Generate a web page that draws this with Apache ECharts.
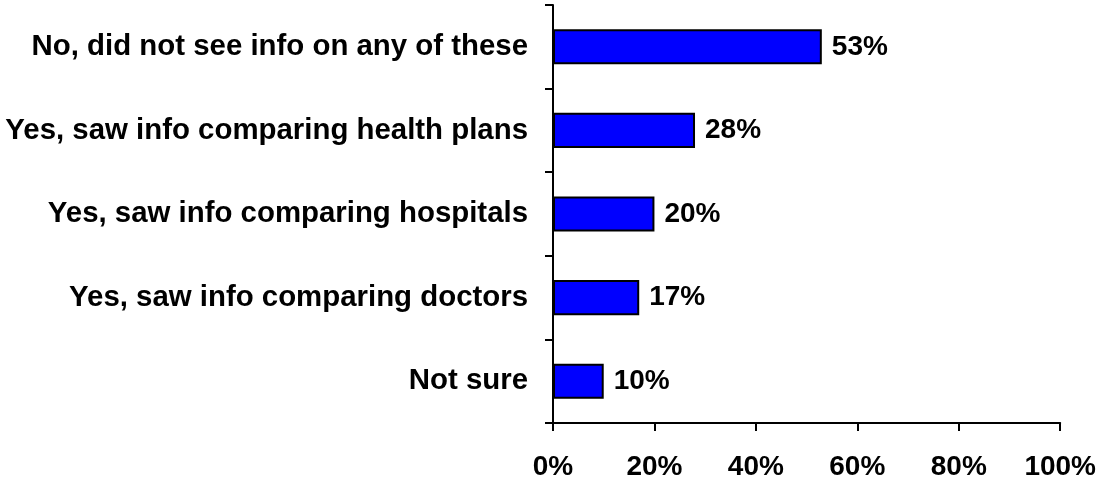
<!DOCTYPE html>
<html>
<head>
<meta charset="utf-8">
<script src="https://cdn.jsdelivr.net/npm/echarts@6/dist/echarts.min.js"></script>
<style>
  html, body { margin: 0; padding: 0; background: #fff; }
  #chart { width: 1099px; height: 483px; }
</style>
</head>
<body>
<div id="chart"></div>
<script>
// Survey answers, listed top to bottom
const categories = [
  'No, did not see info on any of these',
  'Yes, saw info comparing health plans',
  'Yes, saw info comparing hospitals',
  'Yes, saw info comparing doctors',
  'Not sure'
];
const shares = [53, 28, 20, 17, 10];
const xTicks = [0, 20, 40, 60, 80, 100];

const font = '"Liberation Sans", Arial, sans-serif';
const chart = echarts.init(document.getElementById('chart'));

chart.setOption({
  animation: false,
  grid: { left: 553, right: 35, top: 5, bottom: 60, containLabel: false },
  xAxis: {
    type: 'value',
    min: xTicks[0],
    max: xTicks[xTicks.length - 1],
    interval: 20,
    splitLine: { show: false },
    axisLine: { show: true, lineStyle: { color: '#000', width: 2 } },
    axisTick: { show: true, length: 8, lineStyle: { color: '#000', width: 2 } },
    axisLabel: {
      margin: 30,
      color: '#000',
      fontFamily: font,
      fontWeight: 'bold',
      fontSize: 28,
      formatter: v => v + '%'
    }
  },
  yAxis: {
    type: 'category',
    data: categories,
    inverse: true,
    axisLine: { show: true, lineStyle: { color: '#000', width: 2 } },
    axisTick: { show: true, length: 8, alignWithLabel: false, lineStyle: { color: '#000', width: 2 } },
    axisLabel: {
      margin: 25,
      color: '#000',
      fontFamily: font,
      fontWeight: 'bold',
      fontSize: 29.4
    }
  },
  series: [{
    type: 'bar',
    data: shares,
    barWidth: '42%',
    itemStyle: { color: '#0000ff', borderColor: '#000', borderWidth: 2 },
    label: {
      show: true,
      position: 'right',
      distance: 10,
      color: '#000',
      fontFamily: font,
      fontWeight: 'bold',
      fontSize: 28,
      formatter: p => p.value + '%'
    }
  }]
});
</script>
</body>
</html>
